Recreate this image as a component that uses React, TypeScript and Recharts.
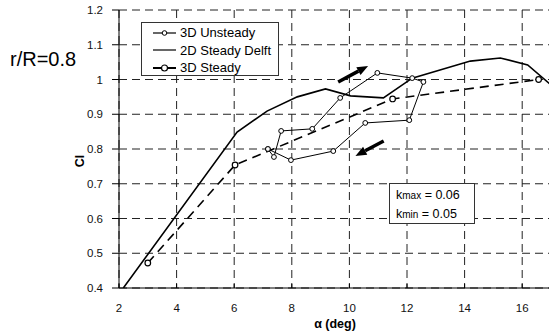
import React from 'react';
import { LineChart, Line, XAxis, YAxis, CartesianGrid, ReferenceLine } from 'recharts';

// 3D unsteady hysteresis loop (alpha in deg, Cl)
const unsteadyAlpha = [7.17, 7.38, 7.63, 8.71, 9.68, 10.97, 12.18, 12.57, 12.08, 10.55, 9.44, 7.97, 7.17];
const unsteadyCl = [0.8, 0.777, 0.852, 0.858, 0.947, 1.019, 1.004, 0.993, 0.883, 0.875, 0.794, 0.768, 0.8];

// 2D steady (Delft)
const delftAlpha = [2.15, 6.1, 7.14, 8.19, 9.17, 10.04, 11.18, 12.18, 14.2, 15.24, 16.19, 16.95];
const delftCl = [0.4, 0.849, 0.909, 0.95, 0.973, 0.953, 0.947, 1.004, 1.053, 1.062, 1.042, 0.988];

// 3D steady
const steadyAlpha = [3, 6.03, 11.5, 16.57];
const steadyCl = [0.472, 0.754, 0.944, 1.0];

const xTicks = [2, 4, 6, 8, 10, 12, 14, 16];
const yTicks = [0.4, 0.5, 0.6, 0.7, 0.8, 0.9, 1.0, 1.1, 1.2];

const toRows = (a: number[], c: number[]) => a.map((v, i) => ({ a: v, cl: c[i] }));
const unsteady = toRows(unsteadyAlpha, unsteadyCl);
const delft = toRows(delftAlpha, delftCl);
const steady = toRows(steadyAlpha, steadyCl);

const FONT = '"Liberation Sans", Arial, sans-serif';

const Arrow = (props: any) => {
  const { x1, y1, x2, y2 } = props;
  const dx = x2 - x1;
  const dy = y2 - y1;
  const len = Math.sqrt(dx * dx + dy * dy) || 1;
  const ux = dx / len;
  const uy = dy / len;
  const head = 11;
  const half = 4.5;
  const bx = x2 - ux * head;
  const by = y2 - uy * head;
  return (
    <g>
      <line x1={x1} y1={y1} x2={bx} y2={by} stroke="#000" strokeWidth={3.5} />
      <polygon
        points={`${x2},${y2} ${bx - uy * half},${by + ux * half} ${bx + uy * half},${by - ux * half}`}
        fill="#000"
      />
    </g>
  );
};

const YTitle = ({ viewBox }: any) => {
  const cx = viewBox.x + 80;
  const cy = viewBox.y + viewBox.height / 2 + 12;
  return (
    <text
      x={cx}
      y={cy}
      transform={`rotate(-90, ${cx}, ${cy})`}
      textAnchor="middle"
      dominantBaseline="central"
      fontFamily={FONT}
      fontWeight="bold"
      fontSize={12.5}
      fill="#000"
    >
      Cl
    </text>
  );
};

const LegendRow = ({ kind, label }: { kind: string; label: string }) => (
  <div style={{ display: 'flex', alignItems: 'center', height: 17.5 }}>
    <svg width={26} height={10} style={{ marginLeft: 10, marginRight: 2 }}>
      <line x1={1} y1={5} x2={24} y2={5} stroke="#000" strokeWidth={kind === 'steady' ? 2 : 1.2} />
      {kind === 'unsteady' && <circle cx={12.5} cy={5} r={2.3} fill="#fff" stroke="#000" strokeWidth={1} />}
      {kind === 'steady' && <circle cx={12.5} cy={5} r={3} fill="#fff" stroke="#000" strokeWidth={1.2} />}
    </svg>
    <span>{label}</span>
  </div>
);

export default function App() {
  return (
    <div style={{ position: 'absolute', left: 0, top: 0, width: 549, height: 335, background: '#fff', fontFamily: FONT }}>
      <LineChart width={549} height={335} margin={{ top: 10, right: -2, bottom: 0, left: 0 }}>
        <CartesianGrid stroke="#222" strokeDasharray="8 5" />
        <XAxis
          type="number"
          dataKey="a"
          domain={[2, 17]}
          ticks={xTicks}
          allowDataOverflow
          height={47}
          tickSize={-4}
          tickMargin={20}
          tick={{ fontSize: 11.5, fill: '#111', fontFamily: FONT }}
          stroke="#000"
          label={{
            value: 'α (deg)',
            position: 'insideBottom',
            offset: 7.5,
            style: { fontSize: 12.5, fontWeight: 'bold', fill: '#000', fontFamily: FONT },
          }}
        />
        <YAxis
          type="number"
          dataKey="cl"
          domain={[0.4, 1.2]}
          ticks={yTicks}
          allowDataOverflow
          width={119}
          tickSize={7}
          tickMargin={9}
          tick={{ fontSize: 11.5, fill: '#111', fontFamily: FONT }}
          tickFormatter={(v) => String(+Number(v).toFixed(1))}
          stroke="#000"
          label={<YTitle />}
        />
        <Line
          data={delft}
          dataKey="cl"
          type="linear"
          stroke="#000"
          strokeWidth={1.6}
          dot={false}
          isAnimationActive={false}
        />
        <Line
          data={steady}
          dataKey="cl"
          type="linear"
          stroke="#000"
          strokeWidth={1.6}
          strokeDasharray="9 6"
          dot={{ r: 2.8, fill: '#fff', stroke: '#000', strokeWidth: 1.2, strokeDasharray: '' }}
          isAnimationActive={false}
        />
        <Line
          data={unsteady}
          dataKey="cl"
          type="linear"
          stroke="#000"
          strokeWidth={1}
          dot={{ r: 2.4, fill: '#fff', stroke: '#000', strokeWidth: 1 }}
          isAnimationActive={false}
        />
        <ReferenceLine segment={[{ x: 9.61, y: 0.993 }, { x: 10.65, y: 1.039 }]} shape={Arrow} />
        <ReferenceLine segment={[{ x: 11.19, y: 0.823 }, { x: 10.21, y: 0.78 }]} shape={Arrow} />
      </LineChart>

      <div style={{ position: 'absolute', left: 10, top: 47, fontSize: 20, lineHeight: '24px', color: '#000' }}>
        r/R=0.8
      </div>

      <div
        style={{
          position: 'absolute',
          left: 141,
          top: 22,
          width: 138,
          height: 54,
          boxSizing: 'border-box',
          border: '1px solid #333',
          background: '#fff',
          fontSize: 13,
          color: '#000',
          paddingTop: 1,
        }}
      >
        <LegendRow kind="unsteady" label="3D Unsteady" />
        <LegendRow kind="delft" label="2D Steady Delft" />
        <LegendRow kind="steady" label="3D Steady" />
      </div>

      <div
        style={{
          position: 'absolute',
          left: 389,
          top: 183,
          width: 86,
          height: 41,
          boxSizing: 'border-box',
          border: '1px solid #333',
          background: '#fff',
          fontSize: 12.5,
          lineHeight: '18px',
          color: '#000',
          paddingTop: 2,
          paddingLeft: 6,
        }}
      >
        <div>
          k<span style={{ fontSize: 10 }}>max</span> = 0.06
        </div>
        <div>
          k<span style={{ fontSize: 10 }}>min</span> = 0.05
        </div>
      </div>
    </div>
  );
}
